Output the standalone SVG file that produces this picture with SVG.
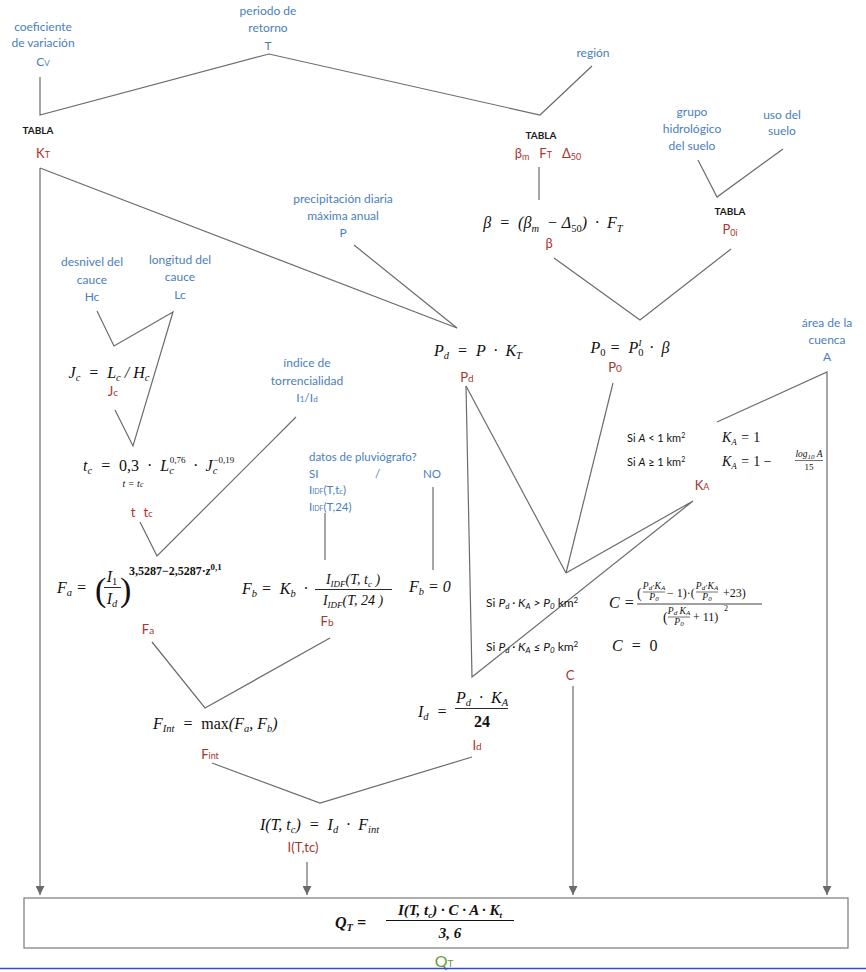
<svg xmlns="http://www.w3.org/2000/svg" width="866" height="972" viewBox="0 0 866 972">
<style>
.ln{fill:none;stroke:#6b6b6b;stroke-width:1.2}
.lb{font-family:Lato,"Open Sans","Liberation Sans",sans-serif;font-size:12px;fill:#4a7ebd;text-anchor:middle}
.lbs{font-family:Lato,"Open Sans","Liberation Sans",sans-serif;font-size:11.5px;fill:#4a7ebd}
.v{font-family:Lato,"Open Sans","Liberation Sans",sans-serif;font-size:13px;fill:#a8332e;text-anchor:middle}
.tb{font-family:Lato,"Liberation Sans",sans-serif;font-size:10px;font-weight:bold;fill:#1a1a1a;text-anchor:middle}
.m{font-family:"Liberation Serif",serif;font-style:italic;font-size:16px;fill:#111}
.s{font-family:Lato,"Liberation Sans",sans-serif;font-size:11px;fill:#111}
.sb{font-size:10.5px}
.sp{font-size:9px}
.n{font-style:normal}
.fl{stroke:#111;fill:none}
</style>
<defs>
<marker id="ah" viewBox="0 0 10 10" refX="10" refY="5" markerWidth="10" markerHeight="9" markerUnits="userSpaceOnUse" orient="auto">
<path d="M0,0 L10,5 L0,10 z" fill="#6b6b6b"/>
</marker>
</defs>

<g id="connectors">
<polyline class="ln" points="40,77 40,115 269,54 540,115 592,66"/>
<line class="ln" x1="40" y1="168" x2="40" y2="895" marker-end="url(#ah)"/>
<line class="ln" x1="40" y1="168" x2="457" y2="328"/>
<line class="ln" x1="354" y1="245" x2="457" y2="328"/>
<line class="ln" x1="539" y1="167" x2="539" y2="200"/>
<polyline class="ln" points="554,258 640,320 731,249"/>
<polyline class="ln" points="698,160 717,197 783,149"/>
<polyline class="ln" points="97,311 114,346 173,312 133,446 115,410"/>
<polyline class="ln" points="296,417 157,556 140,522"/>
<line class="ln" x1="325" y1="513" x2="325" y2="560"/>
<line class="ln" x1="433" y1="487" x2="433" y2="570"/>
<polyline class="ln" points="152,642 205,708 330,638"/>
<polyline class="ln" points="212,763 320,803 472,757"/>
<line class="ln" x1="307" y1="862" x2="307" y2="895" marker-end="url(#ah)"/>
<line class="ln" x1="466" y1="386" x2="566" y2="573"/>
<polyline class="ln" points="466,386 472,677 693,501 566,573"/>
<line class="ln" x1="613" y1="383" x2="566" y2="573"/>
<polyline class="ln" points="717,422 827,372 827,895" marker-end="url(#ah)"/>
<line class="ln" x1="573" y1="686" x2="573" y2="895" marker-end="url(#ah)"/>
</g>

<g id="cv">
<text class="lb" x="43" y="31">coeficiente</text>
<text class="lb" x="43" y="47">de variación</text>
<text class="lb" x="43" y="66">C<tspan font-size="8">V</tspan></text>
</g>
<g id="T">
<text class="lb" x="268" y="15">periodo de</text>
<text class="lb" x="268" y="32">retorno</text>
<text class="lb" x="268" y="50">T</text>
</g>
<g id="region">
<text class="lb" x="593" y="57">región</text>
</g>
<g id="KT">
<text class="tb" x="38" y="134">TABLA</text>
<text class="v" x="43" y="158">K<tspan font-size="9">T</tspan></text>
</g>
<g id="tabla-beta">
<text class="tb" x="541" y="139">TABLA</text>
<text class="v" x="548" y="158">β<tspan font-size="9" dy="2">m</tspan><tspan dy="-2">&#160;&#160; F</tspan><tspan font-size="9">T</tspan>&#160;&#160; Δ<tspan font-size="9" dy="2">50</tspan></text>
</g>
<g id="grupo">
<text class="lb" x="692" y="116">grupo</text>
<text class="lb" x="692" y="133">hidrológico</text>
<text class="lb" x="692" y="150">del suelo</text>
</g>
<g id="uso">
<text class="lb" x="782" y="119">uso del</text>
<text class="lb" x="782" y="135">suelo</text>
</g>
<g id="P0i">
<text class="tb" x="730" y="215">TABLA</text>
<text class="v" x="730" y="234">P<tspan font-size="9" dy="2">0i</tspan></text>
</g>
<g id="P">
<text class="lb" x="343" y="203">precipitación diaria</text>
<text class="lb" x="343" y="220">máxima anual</text>
<text class="lb" x="343" y="237">P</text>
</g>
<g id="beta">
<text class="m" x="553" y="228" text-anchor="middle">β &#160;= &#160;(β<tspan class="sb" dy="4">m</tspan><tspan dy="-4"> &#160;− Δ</tspan><tspan class="sb n" dy="4">50</tspan><tspan dy="-4">) &#160;· &#160;F</tspan><tspan class="sb" dy="4">T</tspan></text>
<text class="v" x="549" y="248">β</text>
</g>
<g id="Hc">
<text class="lb" x="92" y="266">desnivel del</text>
<text class="lb" x="92" y="284">cauce</text>
<text class="lb" x="92" y="301">Hc</text>
</g>
<g id="Lc">
<text class="lb" x="180" y="264">longitud del</text>
<text class="lb" x="180" y="281">cauce</text>
<text class="lb" x="180" y="299">Lc</text>
</g>
<g id="Jc">
<text class="m" x="109" y="378" text-anchor="middle">J<tspan class="sb" dy="3">c</tspan><tspan dy="-3"> &#160;= &#160;L</tspan><tspan class="sb" dy="3">c</tspan><tspan dy="-3"> / H</tspan><tspan class="sb" dy="3">c</tspan></text>
<text class="v" x="113" y="396">J<tspan font-size="10">c</tspan></text>
</g>
<g id="tc">
<text class="m" x="83" y="471">t<tspan class="sb" dy="3">c</tspan><tspan dy="-3"> &#160;= &#160;</tspan><tspan class="n">0,3 &#160;·&#160; </tspan>L<tspan class="sb" dy="3">c</tspan><tspan class="sp n" dx="-4" dy="-11">0,76</tspan><tspan dy="8"> &#160;·&#160; J</tspan><tspan class="sb" dy="3">c</tspan><tspan class="sp n" dx="-4" dy="-11">−0,19</tspan></text>
<text class="m" x="133" y="487" text-anchor="middle" style="font-size:10px">t = t<tspan font-size="8">c</tspan></text>
<text class="v" x="133" y="517">t</text>
<text class="v" x="148" y="517">t<tspan font-size="9">c</tspan></text>
</g>
<g id="I1Id">
<text class="lb" x="307" y="367">índice de</text>
<text class="lb" x="307" y="385">torrencialidad</text>
<text class="lb" x="307" y="402">I<tspan font-size="8">1</tspan>/I<tspan font-size="8">d</tspan></text>
</g>
<g id="pluvio">
<text class="lbs" x="309" y="461">datos de pluviógrafo?</text>
<text class="lbs" x="309" y="478">SI</text>
<text class="lbs" x="375" y="478">/</text>
<text class="lbs" x="423" y="478">NO</text>
<text class="lbs" x="309" y="494">I<tspan font-size="7">IDF</tspan>(T,t<tspan font-size="8">c</tspan>)</text>
<text class="lbs" x="309" y="511">I<tspan font-size="7">IDF</tspan>(T,24)</text>
</g>
<g id="Pd">
<text class="m" x="478" y="356" text-anchor="middle">P<tspan class="sb" dy="3">d</tspan><tspan dy="-3">&#160; = &#160;P &#160;· &#160;K</tspan><tspan class="sb" dy="3">T</tspan></text>
<text class="v" x="467" y="382">P<tspan font-size="10">d</tspan></text>
</g>
<g id="P0">
<text class="m" x="630" y="353" text-anchor="middle">P<tspan class="sb n" dy="3">0</tspan><tspan dy="-3"> = &#160;P</tspan><tspan class="sb n" dy="3">0</tspan><tspan class="sp" dx="-5" dy="-10">I</tspan><tspan dy="7"> &#160;· &#160;β</tspan></text>
<text class="v" x="615" y="372">P<tspan font-size="10">0</tspan></text>
</g>
<g id="A">
<text class="lb" x="827" y="327">área de la</text>
<text class="lb" x="827" y="344">cuenca</text>
<text class="lb" x="827" y="361">A</text>
</g>
<g id="KA">
<text class="s" x="627" y="442">Si <tspan font-style="italic">A</tspan> &lt; 1 km<tspan font-size="7" dy="-4">2</tspan></text>
<text class="m" x="722" y="442" style="font-size:14px">K<tspan class="sp" dy="3">A</tspan><tspan dy="-3"> = </tspan><tspan class="n">1</tspan></text>
<text class="s" x="627" y="466">Si <tspan font-style="italic">A</tspan> ≥ 1 km<tspan font-size="7" dy="-4">2</tspan></text>
<text class="m" x="722" y="466" style="font-size:14px">K<tspan class="sp" dy="3">A</tspan><tspan dy="-3"> = </tspan><tspan class="n">1 −</tspan></text>
<text class="m" x="809" y="457" text-anchor="middle" style="font-size:9.5px">log<tspan font-size="7" dy="2">10</tspan><tspan dy="-2"> A</tspan></text>
<line class="fl" x1="795" y1="460.5" x2="823" y2="460.5" stroke-width="0.6"/>
<text class="m n" x="809" y="470" text-anchor="middle" style="font-size:9px">15</text>
<text class="v" x="702" y="490">K<tspan font-size="9">A</tspan></text>
</g>
<g id="Fa">
<text class="m" x="57" y="593">F<tspan class="sb" dy="3">a</tspan><tspan dy="-3"> =</tspan></text>
<text class="m n" x="95" y="601" style="font-size:34px">(</text>
<text class="m" x="112" y="582" text-anchor="middle">I<tspan class="sb n" dy="3">1</tspan></text>
<line class="fl" x1="104" y1="587.5" x2="121" y2="587.5" stroke-width="0.9"/>
<text class="m" x="112" y="604" text-anchor="middle">I<tspan class="sb" dy="3">d</tspan></text>
<text class="m n" x="120" y="601" style="font-size:34px">)</text>
<text class="m n" x="129" y="575" style="font-size:12px;font-weight:bold">3,5287−2,5287·<tspan font-style="italic">z</tspan><tspan font-size="9" dy="-5">0,1</tspan></text>
<text class="v" x="148" y="634">F<tspan font-size="10">a</tspan></text>
</g>
<g id="Fb">
<text class="m" x="242" y="594">F<tspan class="sb" dy="3">b</tspan><tspan dy="-3"> = &#160;K</tspan><tspan class="sb" dy="3">b</tspan><tspan dy="-3"> &#160;·</tspan></text>
<text class="m" x="353" y="584" text-anchor="middle" style="font-size:14px">I<tspan class="sp" dy="3">IDF</tspan><tspan dy="-3">(T, t</tspan><tspan class="sp" dy="3">c</tspan><tspan dy="-3"> )</tspan></text>
<line class="fl" x1="315" y1="589.5" x2="392" y2="589.5" stroke-width="0.9"/>
<text class="m" x="353" y="605" text-anchor="middle" style="font-size:14px">I<tspan class="sp" dy="3">IDF</tspan><tspan dy="-3">(T, 24 )</tspan></text>
<text class="v" x="327" y="626">F<tspan font-size="10">b</tspan></text>
</g>
<g id="Fb0">
<text class="m" x="409" y="592">F<tspan class="sb" dy="3">b</tspan><tspan dy="-3"> = 0</tspan></text>
</g>
<g id="C">
<text class="s" x="486" y="607" style="font-size:12px">Si <tspan font-style="italic">P<tspan font-size="8" dy="2">d</tspan><tspan dy="-2"> · K</tspan><tspan font-size="8" dy="2">A</tspan><tspan dy="-2"> &gt; P</tspan><tspan font-size="8" dy="2">0</tspan></tspan><tspan dy="-2"> km</tspan><tspan font-size="8" dy="-4">2</tspan></text>
<text class="m" x="609" y="608">C =</text>
<text class="m n" x="637" y="598" style="font-size:14px">(</text>
<text class="m" x="654" y="589" text-anchor="middle" style="font-size:9.5px">P<tspan font-size="7" dy="1">d</tspan><tspan dy="-1">·K</tspan><tspan font-size="7" dy="1">A</tspan></text>
<line class="fl" x1="643" y1="592" x2="665" y2="592" stroke-width="0.6"/>
<text class="m" x="654" y="600" text-anchor="middle" style="font-size:9.5px">P<tspan font-size="7" dy="1">0</tspan></text>
<text class="m n" x="667" y="597" style="font-size:12px">− 1)·(</text>
<text class="m" x="707" y="589" text-anchor="middle" style="font-size:9.5px">P<tspan font-size="7" dy="1">d</tspan><tspan dy="-1">·K</tspan><tspan font-size="7" dy="1">A</tspan></text>
<line class="fl" x1="696" y1="592" x2="718" y2="592" stroke-width="0.6"/>
<text class="m" x="707" y="600" text-anchor="middle" style="font-size:9.5px">P<tspan font-size="7" dy="1">0</tspan></text>
<text class="m n" x="720" y="597" style="font-size:12px">&#160;+23)</text>
<line class="fl" x1="637" y1="604" x2="762" y2="604" stroke-width="0.8"/>
<text class="m n" x="663" y="622" style="font-size:14px">(</text>
<text class="m" x="679" y="614" text-anchor="middle" style="font-size:9.5px">P<tspan font-size="7" dy="1">d</tspan><tspan dy="-1"> K</tspan><tspan font-size="7" dy="1">A</tspan></text>
<line class="fl" x1="668" y1="617" x2="690" y2="617" stroke-width="0.6"/>
<text class="m" x="679" y="625" text-anchor="middle" style="font-size:9.5px">P<tspan font-size="7" dy="1">0</tspan></text>
<text class="m n" x="693" y="621" style="font-size:12px">+ 11)</text>
<text class="m n" x="724" y="611" style="font-size:8px">2</text>
<text class="s" x="486" y="651" style="font-size:12px">Si <tspan font-style="italic">P<tspan font-size="8" dy="2">d</tspan><tspan dy="-2"> · K</tspan><tspan font-size="8" dy="2">A</tspan><tspan dy="-2"> ≤ P</tspan><tspan font-size="8" dy="2">0</tspan></tspan><tspan dy="-2"> km</tspan><tspan font-size="8" dy="-4">2</tspan></text>
<text class="m" x="612" y="651">C &#160;= &#160;<tspan class="n">0</tspan></text>
<text class="v" x="570" y="680">C</text>
</g>
<g id="Id">
<text class="m" x="418" y="717">I<tspan class="sb" dy="3">d</tspan><tspan dy="-3"> &#160;=</tspan></text>
<text class="m" x="482" y="703" text-anchor="middle">P<tspan class="sb" dy="3">d</tspan><tspan dy="-3"> &#160;· &#160;K</tspan><tspan class="sb" dy="3">A</tspan></text>
<line class="fl" x1="455" y1="708.5" x2="508" y2="708.5" stroke-width="0.9"/>
<text class="m n" x="482" y="727" text-anchor="middle" font-weight="bold">24</text>
<text class="v" x="477" y="750">I<tspan font-size="10">d</tspan></text>
</g>
<g id="Fint">
<text class="m" x="153" y="729">F<tspan class="sb" dy="3">Int</tspan><tspan dy="-3"> &#160;= &#160;</tspan><tspan class="n">max</tspan>(F<tspan class="sb" dy="3">a</tspan><tspan dy="-3">, F</tspan><tspan class="sb" dy="3">b</tspan><tspan dy="-3">)</tspan></text>
<text class="v" x="210" y="759">F<tspan font-size="9">int</tspan></text>
</g>
<g id="ITtc">
<text class="m" x="260" y="830">I(T, t<tspan class="sb" dy="3">c</tspan><tspan dy="-3">) &#160;= &#160;I</tspan><tspan class="sb" dy="3">d</tspan><tspan dy="-3"> &#160;· &#160;F</tspan><tspan class="sb" dy="3">int</tspan></text>
<text class="v" x="303" y="852">I(T,tc)</text>
</g>
<g id="QT">
<rect x="24" y="898" width="824" height="50" fill="#fff" stroke="#7a7a7a" stroke-width="1.2"/>
<text class="m" x="335" y="928" font-weight="bold">Q<tspan class="sb" dy="3">T</tspan><tspan dy="-3"> =</tspan></text>
<text class="m" x="450" y="915" text-anchor="middle" font-weight="bold" style="font-size:15px">I(T, t<tspan class="sp" dy="3">c</tspan><tspan dy="-3">) · C · A · K</tspan><tspan class="sp" dy="3">t</tspan></text>
<line class="fl" x1="386" y1="920.5" x2="514" y2="920.5" stroke-width="1"/>
<text class="m" x="450" y="938" text-anchor="middle" font-weight="bold" style="font-size:15px">3, 6</text>
<text x="444" y="967" text-anchor="middle" font-family="Lato,'Open Sans','Liberation Sans',sans-serif" font-size="16" fill="#6a9a3a">Q<tspan font-size="10">T</tspan></text>
</g>
<line x1="0" y1="968.5" x2="866" y2="968.5" stroke="#2c4fc9" stroke-width="1.5"/>
</svg>
